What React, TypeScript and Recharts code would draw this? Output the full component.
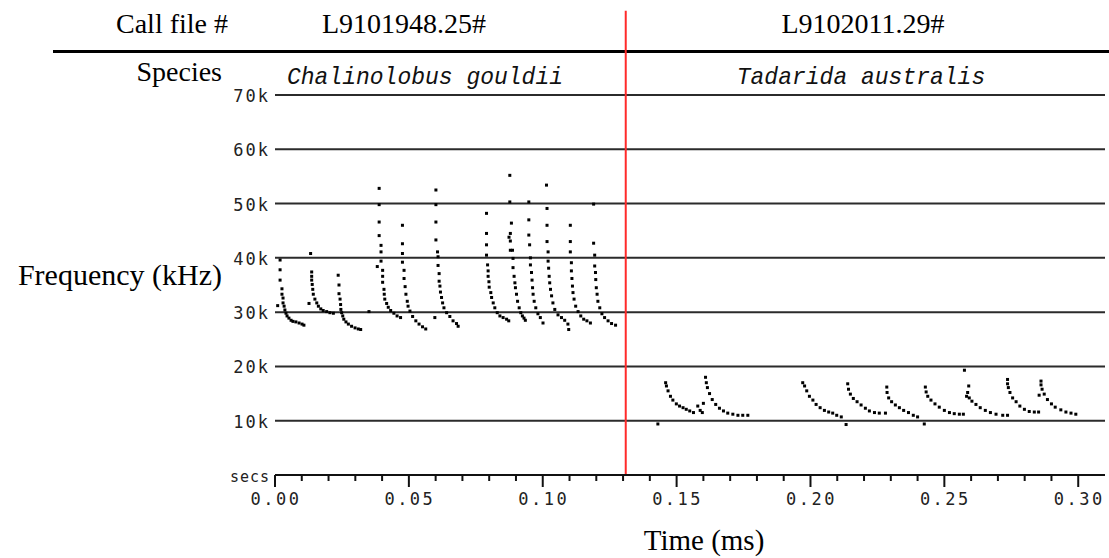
import { CartesianGrid, ReferenceLine, Scatter, ScatterChart, XAxis, YAxis } from 'recharts';

// call files + species shown above the plot
const callFiles = ['L9101948.25#', 'L9102011.29#'];
const species = ['Chalinolobus gouldii', 'Tadarida australis'];

// time (s) where the second call file starts
const fileBoundary = 0.131;
const boundaryTop = 85.5;

const timeTicks = [
  0, 0.01, 0.02, 0.03, 0.04, 0.05, 0.06, 0.07, 0.08, 0.09, 0.1, 0.11, 0.12, 0.13, 0.14, 0.15,
  0.16, 0.17, 0.18, 0.19, 0.2, 0.21, 0.22, 0.23, 0.24, 0.25, 0.26, 0.27, 0.28, 0.29, 0.3,
];
const freqTicks = [0, 10, 20, 30, 40, 50, 60, 70];

// [time (s), frequency (kHz)] for each call pulse — Chalinolobus gouldii
const cg1 = [[0.0019, 39.6], [0.0019, 37.8], [0.0019, 35.9], [0.0026, 34.3], [0.0026, 33.3], [0.003, 32.6], [0.003, 31.7], [0.0034, 31.1], [0.0037, 30.4], [0.0041, 29.8], [0.0045, 29.3], [0.0052, 28.9], [0.006, 28.5], [0.0067, 28.3], [0.0078, 28.2], [0.009, 28.0], [0.0101, 27.8], [0.0108, 27.6]];
const cg2 = [[0.0133, 40.8], [0.0137, 37.4], [0.0137, 36.6], [0.0137, 35.9], [0.0139, 35.1], [0.0141, 34.2], [0.0143, 33.3], [0.0149, 32.4], [0.0156, 31.7], [0.0162, 31.1], [0.0171, 30.6], [0.018, 30.3], [0.0193, 30.1], [0.0205, 29.9], [0.0218, 29.8]];
const cg3 = [[0.0236, 36.8], [0.0239, 35.0], [0.0239, 33.4], [0.0243, 32.4], [0.0245, 31.4], [0.0246, 30.5], [0.0249, 29.9], [0.0253, 29.3], [0.0257, 28.7], [0.0265, 28.2], [0.0274, 27.8], [0.0286, 27.4], [0.0299, 27.1], [0.0311, 26.9], [0.032, 26.8]];
const cg4 = [[0.0389, 52.8], [0.0389, 49.8], [0.0389, 46.6], [0.0389, 44.1], [0.0396, 42.3], [0.0396, 41.1], [0.0396, 39.4], [0.0402, 37.7], [0.0402, 36.6], [0.0402, 35.5], [0.0407, 34.2], [0.0408, 33.3], [0.041, 32.4], [0.0417, 31.6], [0.0423, 30.9], [0.0432, 30.3], [0.0444, 29.8], [0.0456, 29.3], [0.0469, 29.0]];
const cg5 = [[0.0476, 46.0], [0.0476, 42.6], [0.0476, 40.8], [0.0476, 39.2], [0.0482, 37.7], [0.0482, 36.2], [0.0486, 34.7], [0.0489, 33.3], [0.0494, 32.0], [0.0497, 31.1], [0.0504, 30.2], [0.0514, 29.2], [0.0526, 28.4], [0.0538, 27.8], [0.0551, 27.3], [0.0563, 26.9]];
const cg6 = [[0.0601, 52.5], [0.0601, 49.8], [0.0601, 46.6], [0.0601, 43.3], [0.0607, 41.1], [0.0609, 40.2], [0.0609, 38.6], [0.0613, 37.1], [0.0613, 35.7], [0.0616, 34.8], [0.0618, 33.7], [0.0622, 32.7], [0.0626, 31.7], [0.0631, 30.8], [0.0641, 29.9], [0.0653, 29.2], [0.0665, 28.4], [0.0678, 27.9], [0.0684, 27.4]];
const cg7 = [[0.079, 48.2], [0.079, 44.5], [0.079, 42.4], [0.079, 40.5], [0.0794, 38.7], [0.0796, 37.6], [0.0796, 36.6], [0.0799, 35.6], [0.08, 34.6], [0.0806, 33.6], [0.0809, 32.7], [0.0815, 31.7], [0.0821, 30.8], [0.083, 29.9], [0.084, 29.3], [0.0852, 29.0], [0.0865, 28.7], [0.0873, 28.4]];
const cg8 = [[0.0877, 55.2], [0.0877, 50.3], [0.0883, 46.4], [0.0879, 44.5], [0.0874, 43.8], [0.0879, 43.1], [0.0879, 41.4], [0.0887, 41.4], [0.0889, 39.9], [0.0889, 38.2], [0.0893, 36.6], [0.0896, 35.4], [0.0898, 34.5], [0.0902, 33.3], [0.0906, 32.0], [0.0912, 30.8], [0.0918, 29.9], [0.0924, 29.3], [0.093, 28.9], [0.0935, 28.5]];
const cg9 = [[0.0948, 50.3], [0.0948, 47.0], [0.0948, 44.2], [0.0951, 42.4], [0.0954, 40.0], [0.0954, 38.7], [0.0958, 37.3], [0.096, 35.9], [0.0962, 34.5], [0.0964, 33.3], [0.0968, 32.0], [0.0974, 30.8], [0.0982, 29.7], [0.0991, 29.0], [0.1001, 28.0]];
const cg10 = [[0.1014, 53.4], [0.1016, 49.1], [0.1016, 46.0], [0.1016, 43.0], [0.102, 41.1], [0.102, 39.4], [0.1022, 38.1], [0.1024, 36.6], [0.1026, 35.4], [0.1029, 34.2], [0.1033, 33.0], [0.1038, 31.7], [0.1045, 30.5], [0.1057, 29.5], [0.107, 29.0], [0.1082, 28.5], [0.1094, 27.8], [0.1097, 26.8]];
const cg11 = [[0.1103, 46.0], [0.1103, 43.0], [0.1103, 41.1], [0.1107, 39.1], [0.1107, 37.6], [0.1109, 36.2], [0.1111, 34.8], [0.1113, 33.6], [0.1117, 32.4], [0.1123, 31.1], [0.1132, 30.1], [0.1142, 29.3], [0.1153, 28.7], [0.1165, 28.4], [0.1178, 28.0]];
const cg12 = [[0.119, 49.9], [0.119, 42.7], [0.1194, 40.5], [0.1194, 38.5], [0.1197, 37.3], [0.1198, 36.0], [0.12, 34.5], [0.1203, 33.3], [0.1206, 32.0], [0.1213, 30.8], [0.1221, 29.7], [0.1231, 29.0], [0.1244, 28.4], [0.1257, 27.9], [0.1272, 27.6]];
const cgStray = [[0.001, 31.2], [0.0127, 31.6], [0.0351, 30.1], [0.0382, 38.4], [0.0597, 29.0]];

// Tadarida australis
const ta1 = [[0.1459, 17.0], [0.1462, 16.4], [0.1468, 15.5], [0.1477, 14.5], [0.1486, 13.8], [0.1499, 13.1], [0.1511, 12.7], [0.1524, 12.4], [0.1536, 12.1], [0.1549, 11.8], [0.1563, 11.5]];
const ta2 = [[0.1608, 18.0], [0.1611, 17.0], [0.1615, 16.1], [0.1623, 15.0], [0.1633, 13.9], [0.1646, 13.0], [0.166, 12.3], [0.1675, 11.8], [0.1691, 11.4], [0.171, 11.2], [0.1729, 11.0], [0.1747, 11.0], [0.1766, 11.0]];
const ta3 = [[0.1971, 17.0], [0.1978, 16.4], [0.1986, 15.5], [0.1996, 14.5], [0.2009, 13.8], [0.2021, 13.0], [0.2036, 12.4], [0.2052, 11.9], [0.2068, 11.6], [0.2083, 11.4], [0.2098, 11.0], [0.2115, 10.7]];
const ta4 = [[0.2139, 16.8], [0.2142, 15.8], [0.2149, 14.9], [0.216, 14.1], [0.2174, 13.5], [0.2189, 12.9], [0.2205, 12.3], [0.222, 11.8], [0.2239, 11.5], [0.2257, 11.4], [0.228, 11.4]];
const ta5 = [[0.2285, 16.2], [0.2286, 15.2], [0.2292, 14.2], [0.2303, 13.5], [0.2317, 12.9], [0.2332, 12.4], [0.2348, 11.9], [0.2366, 11.5], [0.2384, 11.0], [0.24, 10.7]];
const ta6 = [[0.2429, 16.2], [0.2432, 15.3], [0.2438, 14.5], [0.245, 13.8], [0.2465, 13.1], [0.2481, 12.5], [0.25, 11.9], [0.2519, 11.5], [0.2537, 11.3], [0.2556, 11.2], [0.2571, 11.2]];
const ta7 = [[0.2591, 16.4], [0.2587, 15.2], [0.2583, 14.5], [0.2593, 14.2], [0.2603, 13.6], [0.2618, 13.0], [0.2634, 12.4], [0.2653, 11.9], [0.2672, 11.5], [0.2693, 11.2], [0.2718, 11.0], [0.2736, 11.0]];
const ta8 = [[0.2736, 17.6], [0.2736, 16.8], [0.2739, 16.1], [0.2745, 15.2], [0.2755, 14.2], [0.2768, 13.5], [0.2782, 12.7], [0.2799, 12.1], [0.2817, 11.7], [0.2836, 11.6], [0.2852, 11.6]];
const ta9 = [[0.2861, 17.3], [0.2861, 16.6], [0.2865, 15.8], [0.2873, 14.9], [0.2885, 13.9], [0.29, 13.1], [0.2914, 12.5], [0.2935, 12.0], [0.2954, 11.6], [0.2973, 11.4], [0.2991, 11.2]];
const taStray = [[0.143, 9.4], [0.1579, 12.7], [0.16, 13.2], [0.1588, 11.9], [0.1596, 11.5], [0.2133, 9.3], [0.2425, 9.4], [0.2575, 19.3], [0.2854, 14.7]];

const toPoints = (calls: number[][][]) => calls.flat().map(([t, f]) => ({ t, f }));

const gouldiiData = toPoints([cg1, cg2, cg3, cg4, cg5, cg6, cg7, cg8, cg9, cg10, cg11, cg12, cgStray]);
const australisData = toPoints([ta1, ta2, ta3, ta4, ta5, ta6, ta7, ta8, ta9, taStray]);

const tickFont = '"DejaVu Sans Mono", monospace';
const serif = '"Liberation Serif", "Times New Roman", serif';

const Dot = (props: any) => (
  <rect x={props.cx - 1.5} y={props.cy - 1.5} width={3} height={3} fill='#000' />
);

const TimeTick = ({ x, y, payload }: any) => {
  const major = Math.round(payload.value * 100) % 5 === 0;
  return (
    <g>
      <line x1={x} x2={x} y1={y} y2={y + (major ? 12 : 6)} stroke='#111' strokeWidth={2} />
      {major && (
        <text
          x={x + 1}
          y={y + 25}
          textAnchor='middle'
          dominantBaseline='middle'
          fontFamily={tickFont}
          fontSize={17}
          letterSpacing={2.5}
          fill='#222'
        >
          {payload.value.toFixed(2)}
        </text>
      )}
    </g>
  );
};

const FreqTick = ({ x, y, payload }: any) => (
  <text
    x={x}
    y={y + 2}
    textAnchor='end'
    dominantBaseline='middle'
    fontFamily={tickFont}
    fontSize={payload.value === 0 ? 15 : 17}
    letterSpacing={payload.value === 0 ? 1 : 2}
    fill='#222'
  >
    {payload.value === 0 ? 'secs' : `${payload.value}k`}
  </text>
);

export default function App() {
  return (
    <div style={{ position: 'absolute', left: 0, top: 0, width: 1109, height: 558, background: '#fff' }}>
      {/* header block */}
      <svg width={1109} height={558} style={{ position: 'absolute', left: 0, top: 0 }}>
        <text x={172} y={33} textAnchor='middle' fontFamily={serif} fontSize={28} fill='#000'>
          Call file #
        </text>
        <text x={404} y={33} textAnchor='middle' fontFamily={serif} fontSize={28} fill='#000'>
          {callFiles[0]}
        </text>
        <text x={863} y={33} textAnchor='middle' fontFamily={serif} fontSize={28} fill='#000'>
          {callFiles[1]}
        </text>
        <rect x={53} y={50} width={1056} height={3} fill='#000' />
        <text x={222} y={81} textAnchor='end' fontFamily={serif} fontSize={28} fill='#000'>
          Species
        </text>
        <text x={425} y={84} textAnchor='middle' fontFamily='"Liberation Mono", monospace' fontStyle='italic' fontSize={23} fill='#111'>
          {species[0]}
        </text>
        <text x={861} y={84} textAnchor='middle' fontFamily='"Liberation Mono", monospace' fontStyle='italic' fontSize={23} fill='#111'>
          {species[1]}
        </text>
        <text x={222} y={285} textAnchor='end' fontFamily={serif} fontSize={30} fill='#000'>
          Frequency (kHz)
        </text>
        <text x={704} y={550} textAnchor='middle' fontFamily={serif} fontSize={29} fill='#000'>
          Time (ms)
        </text>
      </svg>

      <div style={{ position: 'absolute', left: 0, top: 0 }}>
        <ScatterChart width={1109} height={558} margin={{ top: 95, right: 4, bottom: 0, left: 0 }}>
          <CartesianGrid vertical={false} stroke='#2b2b2b' strokeWidth={2} />
          <XAxis
            type='number'
            dataKey='t'
            domain={[0, 0.31]}
            ticks={timeTicks}
            interval={0}
            height={83}
            tickSize={0}
            tickMargin={0}
            tickLine={false}
            axisLine={{ stroke: '#111', strokeWidth: 2 }}
            tick={<TimeTick />}
          />
          <YAxis
            type='number'
            dataKey='f'
            domain={[0, 70]}
            ticks={freqTicks}
            interval={0}
            width={275}
            tickSize={0}
            tickMargin={5}
            axisLine={false}
            tickLine={false}
            tick={<FreqTick />}
          />
          <ReferenceLine
            segment={[{ x: fileBoundary, y: 0 }, { x: fileBoundary, y: boundaryTop }]}
            ifOverflow='visible'
            stroke='#ff2a2a'
            strokeWidth={2}
          />
          <Scatter data={gouldiiData} shape={<Dot />} isAnimationActive={false} />
          <Scatter data={australisData} shape={<Dot />} isAnimationActive={false} />
        </ScatterChart>
      </div>
    </div>
  );
}
